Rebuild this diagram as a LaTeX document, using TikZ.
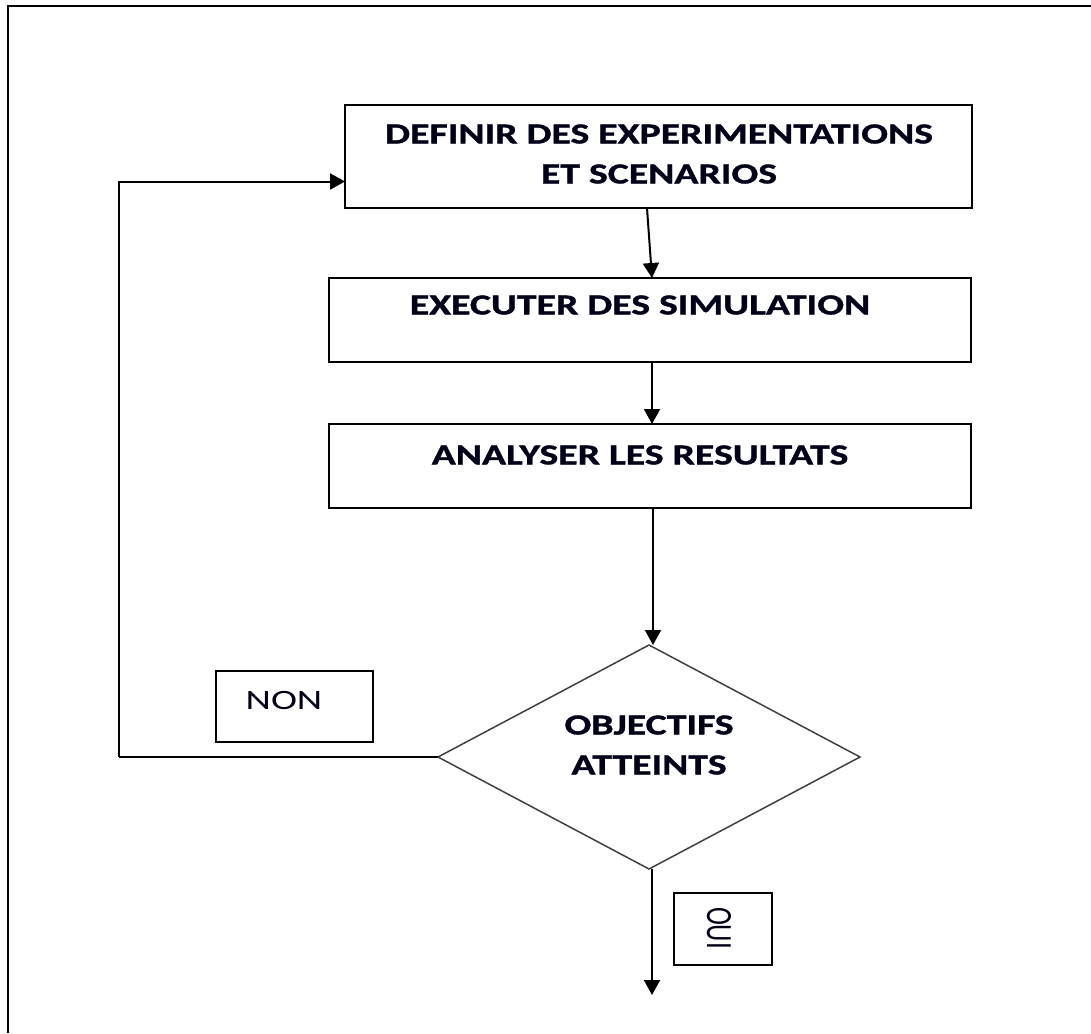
\documentclass[tikz,border=0pt]{standalone}
\usepackage{fontspec}
\usepackage{graphicx}
\setmainfont{Carlito}
\newfontfamily\widebold[FakeStretch=1.37,FakeBold=1.2]{Carlito Bold}
\newfontfamily\widereg[FakeStretch=1.4]{Carlito}
\usetikzlibrary{arrows.meta,shapes.geometric}
\begin{document}
\begin{tikzpicture}[x=1pt,y=-1pt,
  box/.style={draw, line width=2pt, inner sep=0pt, outer sep=0pt},
  lbl/.style={font=\widebold\fontsize{29}{40}\selectfont, inner sep=0pt, align=center, text=black!90!blue},
  tag/.style={font=\widereg\fontsize{28}{30}\selectfont, inner sep=0pt, text=black!90!blue},
  flow/.style={line width=2pt, -{Triangle[width=16pt,length=15pt]}},
]
\useasboundingbox (0,0) rectangle (1091,1033);
% open page frame
\draw[line width=2.5pt] (8,1033) -- (8,6) -- (1091,6);

% process boxes
\node[box, minimum width=627pt, minimum height=103pt] (define) at (658.5,156.5) {};
\node[lbl] (defineText) at (659,154) {DEFINIR DES EXPERIMENTATIONS\\ET SCENARIOS};
\node[box, minimum width=642pt, minimum height=84pt] (execute) at (650,320) {};
\node[lbl] (executeText) at (640,305) {EXECUTER DES SIMULATION};
\node[box, minimum width=642pt, minimum height=84pt] (analyse) at (650,466) {};
\node[lbl] (analyseText) at (640,455) {ANALYSER LES RESULTATS};

% decision
\node[draw=black!75, line width=1.5pt, shape=diamond, inner sep=0pt, outer sep=0pt,
      minimum width=422pt, minimum height=224pt] (decision) at (649,757) {};
\node[lbl] (decisionText) at (649,745) {OBJECTIFS\\ATTEINTS};

% branch labels
\node[box, minimum width=157pt, minimum height=71pt] (nonBox) at (294.5,706.5) {};
\node[tag] (nonText) at (284,700) {NON};
\node[box, minimum width=98pt, minimum height=72pt] (ouiBox) at (723,929) {};
\node[inner sep=0pt, text=black!90!blue] (ouiText) at (719,928)
  {\scalebox{1.37}[1]{\rotatebox{-90}{\fontsize{27}{30}\selectfont OUI}}};

% connectors
\coordinate (loopCorner) at (119,757);
\coordinate (exitEnd) at (652,995);
\draw[flow] ([xshift=-11.5pt]define.south) -- ([xshift=2pt]execute.north);
\draw[flow] ([xshift=2pt]execute.south) -- ([xshift=2pt]analyse.north);
\draw[flow] ([xshift=3pt]analyse.south) -- ([xshift=4pt]decision.north);
\draw[line width=2pt] (decision.west) -- (loopCorner);
\draw[flow] (loopCorner) |- ([yshift=-25pt]define.west);
\draw[flow] ([xshift=3pt]decision.south) -- (exitEnd);
\end{tikzpicture}
\end{document}
